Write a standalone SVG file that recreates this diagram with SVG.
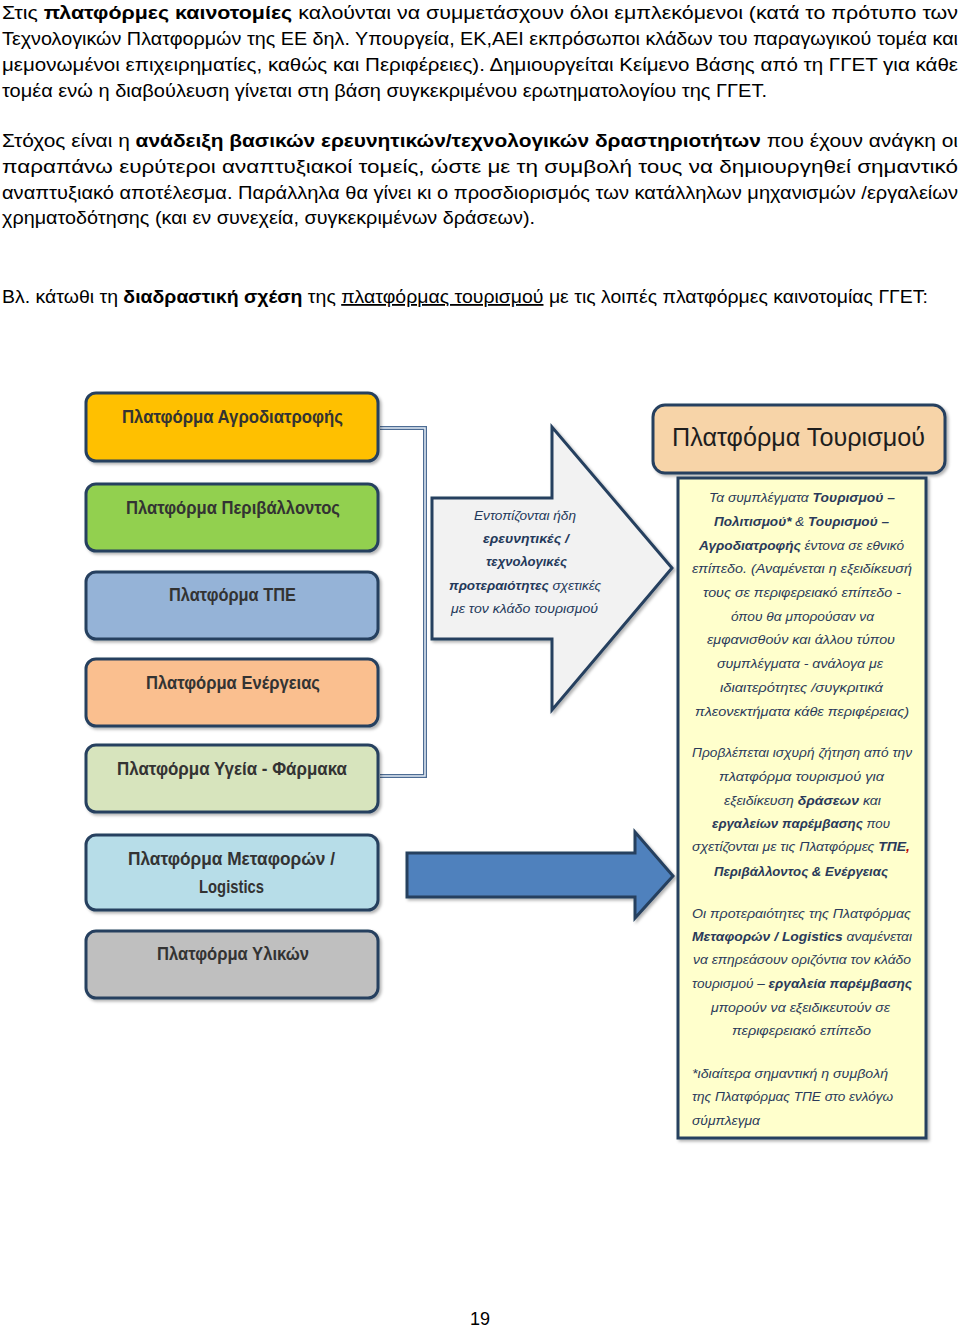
<svg xmlns="http://www.w3.org/2000/svg" width="960" height="1327" viewBox="0 0 960 1327">
<defs>
<filter id="sh" x="-10%" y="-10%" width="130%" height="130%">
<feDropShadow dx="2" dy="2" stdDeviation="1.5" flood-color="#000" flood-opacity="0.3"/>
</filter>
</defs>
<style>
.body{font-family:"Liberation Sans",Arial,sans-serif;font-size:18px;fill:#000}
.b{font-weight:bold}
.u{text-decoration:underline}
.box{stroke:#26405f;stroke-width:3}
.lbl{font-family:"Liberation Sans",Arial,sans-serif;font-size:18px;font-weight:bold;fill:#333}
.arrtxt{font-family:"Liberation Sans",Arial,sans-serif;font-size:13.5px;font-style:italic;fill:#24395a}
.ytxt{font-family:"Liberation Sans",Arial,sans-serif;font-size:13px;font-style:italic;fill:#2a3a5a}
</style>
<rect width="960" height="1327" fill="#fff"/>

<g id="page-text">
<text class="body" x="2" y="19" textLength="956" lengthAdjust="spacingAndGlyphs">Στις <tspan class="b">πλατφόρμες καινοτομίες</tspan> καλούνται να συμμετάσχουν όλοι εμπλεκόμενοι (κατά το πρότυπο των</text>
<text class="body" x="2" y="45" textLength="956" lengthAdjust="spacingAndGlyphs">Τεχνολογικών Πλατφορμών της ΕΕ δηλ. Υπουργεία, ΕΚ,ΑΕΙ εκπρόσωποι κλάδων του παραγωγικού τομέα και</text>
<text class="body" x="2" y="71" textLength="956" lengthAdjust="spacingAndGlyphs">μεμονωμένοι επιχειρηματίες, καθώς και Περιφέρειες). Δημιουργείται Κείμενο Βάσης από τη ΓΓΕΤ για κάθε</text>
<text class="body" x="2" y="97" textLength="765" lengthAdjust="spacingAndGlyphs">τομέα ενώ η διαβούλευση γίνεται  στη βάση συγκεκριμένου ερωτηματολογίου της ΓΓΕΤ.</text>
<text class="body" x="2" y="147" textLength="956" lengthAdjust="spacingAndGlyphs">Στόχος είναι η <tspan class="b">ανάδειξη βασικών ερευνητικών/τεχνολογικών  δραστηριοτήτων</tspan> που έχουν ανάγκη οι</text>
<text class="body" x="2" y="173" textLength="956" lengthAdjust="spacingAndGlyphs">παραπάνω ευρύτεροι αναπτυξιακοί τομείς, ώστε με τη συμβολή τους να δημιουργηθεί σημαντικό</text>
<text class="body" x="2" y="199" textLength="956" lengthAdjust="spacingAndGlyphs">αναπτυξιακό αποτέλεσμα. Παράλληλα θα γίνει  κι ο προσδιορισμός των κατάλληλων μηχανισμών /εργαλείων</text>
<text class="body" x="2" y="224" textLength="533" lengthAdjust="spacingAndGlyphs">χρηματοδότησης (και εν συνεχεία, συγκεκριμένων δράσεων).</text>
<text class="body" x="2" y="303" textLength="926" lengthAdjust="spacingAndGlyphs">Βλ. κάτωθι τη <tspan class="b">διαδραστική σχέση</tspan> της <tspan class="u">πλατφόρμας τουρισμού</tspan> με τις λοιπές πλατφόρμες καινοτομίας ΓΓΕΤ:</text>
<text class="body" x="480" y="1325" text-anchor="middle">19</text>
</g>

<g id="connectors">
<path d="M380,428 H425 V776 H380" fill="none" stroke="#4d6c94" stroke-width="4"/>
<path d="M380,428 H425 V776 H380" fill="none" stroke="#e3ebf5" stroke-width="1.5"/>
</g>

<g id="n-agro">
<rect class="box" x="86" y="393" width="292" height="68" rx="10" fill="#ffc000" filter="url(#sh)"/>
<text class="lbl" x="122" y="423" textLength="221" lengthAdjust="spacingAndGlyphs">Πλατφόρμα Αγροδιατροφής</text>
</g>
<g id="n-env">
<rect class="box" x="86" y="484" width="292" height="67" rx="10" fill="#92d050" filter="url(#sh)"/>
<text class="lbl" x="126" y="514" textLength="214" lengthAdjust="spacingAndGlyphs">Πλατφόρμα Περιβάλλοντος</text>
</g>
<g id="n-tpe">
<rect class="box" x="86" y="572" width="292" height="67" rx="10" fill="#95b3d7" filter="url(#sh)"/>
<text class="lbl" x="169" y="601" textLength="127" lengthAdjust="spacingAndGlyphs">Πλατφόρμα ΤΠΕ</text>
</g>
<g id="n-energy">
<rect class="box" x="86" y="659" width="292" height="67" rx="10" fill="#fabf8f" filter="url(#sh)"/>
<text class="lbl" x="146" y="689" textLength="174" lengthAdjust="spacingAndGlyphs">Πλατφόρμα Ενέργειας</text>
</g>
<g id="n-health">
<rect class="box" x="86" y="745" width="292" height="67" rx="10" fill="#d7e4bd" filter="url(#sh)"/>
<text class="lbl" x="117" y="775" textLength="230" lengthAdjust="spacingAndGlyphs">Πλατφόρμα Υγεία - Φάρμακα</text>
</g>
<g id="n-transport">
<rect class="box" x="86" y="835" width="292" height="75" rx="10" fill="#b7dde8" filter="url(#sh)"/>
<text class="lbl" x="128" y="865" textLength="207" lengthAdjust="spacingAndGlyphs">Πλατφόρμα Μεταφορών /</text>
<text class="lbl" x="199" y="893" textLength="65" lengthAdjust="spacingAndGlyphs">Logistics</text>
</g>
<g id="n-materials">
<rect class="box" x="86" y="931" width="292" height="67" rx="10" fill="#bfbfbf" filter="url(#sh)"/>
<text class="lbl" x="157" y="960" textLength="152" lengthAdjust="spacingAndGlyphs">Πλατφόρμα Υλικών</text>
</g>

<g id="n-grey-arrow">
<path d="M432,498 H552 V427 L672,568 L552,710 V639 H432 Z" fill="#f2f2f2" stroke="#26405f" stroke-width="3" stroke-linejoin="miter" filter="url(#sh)"/>
<text class="arrtxt" x="474" y="520" textLength="102" lengthAdjust="spacingAndGlyphs">Εντοπίζονται ήδη</text>
<text class="arrtxt b" x="483" y="543" textLength="86" lengthAdjust="spacingAndGlyphs">ερευνητικές /</text>
<text class="arrtxt b" x="486" y="566" textLength="81" lengthAdjust="spacingAndGlyphs">τεχνολογικές</text>
<text class="arrtxt" x="449" y="590" textLength="152" lengthAdjust="spacingAndGlyphs"><tspan class="b">προτεραιότητες</tspan> σχετικές</text>
<text class="arrtxt" x="451" y="613" textLength="147" lengthAdjust="spacingAndGlyphs">με τον κλάδο τουρισμού</text>
</g>

<g id="n-blue-arrow">
<path d="M407,853 H635 V832 L673,876 L635,918 V897 H407 Z" fill="#4f81bd" stroke="#26405f" stroke-width="3" filter="url(#sh)"/>
</g>

<g id="n-tourism">
<rect class="box" x="653" y="405" width="292" height="68" rx="12" fill="#f7d4a8" filter="url(#sh)"/>
<text x="672" y="446" font-family="Liberation Sans, Arial, sans-serif" font-size="26" fill="#1e1e1e" textLength="253" lengthAdjust="spacingAndGlyphs">Πλατφόρμα Τουρισμού</text>
</g>

<g id="n-tourism-details">
<rect class="box" x="678" y="478" width="248" height="660" fill="#ffffcc" filter="url(#sh)"/>
<text class="ytxt" x="709" y="502" textLength="186" lengthAdjust="spacingAndGlyphs">Τα συμπλέγματα <tspan class="b">Τουρισμού –</tspan></text>
<text class="ytxt" x="714" y="526" textLength="175" lengthAdjust="spacingAndGlyphs"><tspan class="b">Πολιτισμού*</tspan> &amp; <tspan class="b">Τουρισμού –</tspan></text>
<text class="ytxt" x="699" y="550" textLength="205" lengthAdjust="spacingAndGlyphs"><tspan class="b">Αγροδιατροφής</tspan> έντονα σε εθνικό</text>
<text class="ytxt" x="692" y="573" textLength="220" lengthAdjust="spacingAndGlyphs">επίπεδο. (Αναμένεται η εξειδίκευσή</text>
<text class="ytxt" x="703" y="597" textLength="198" lengthAdjust="spacingAndGlyphs">τους σε περιφερειακό επίπεδο -</text>
<text class="ytxt" x="731" y="621" textLength="143" lengthAdjust="spacingAndGlyphs">όπου θα μπορούσαν να</text>
<text class="ytxt" x="707" y="644" textLength="188" lengthAdjust="spacingAndGlyphs">εμφανισθούν και άλλου τύπου</text>
<text class="ytxt" x="717" y="668" textLength="166" lengthAdjust="spacingAndGlyphs">συμπλέγματα - ανάλογα με</text>
<text class="ytxt" x="720" y="692" textLength="163" lengthAdjust="spacingAndGlyphs">ιδιαιτερότητες /συγκριτικά</text>
<text class="ytxt" x="695" y="716" textLength="214" lengthAdjust="spacingAndGlyphs">πλεονεκτήματα κάθε περιφέρειας)</text>

<text class="ytxt" x="692" y="757" textLength="220" lengthAdjust="spacingAndGlyphs">Προβλέπεται ισχυρή ζήτηση από την</text>
<text class="ytxt" x="719" y="781" textLength="165" lengthAdjust="spacingAndGlyphs">πλατφόρμα τουρισμού  για</text>
<text class="ytxt" x="724" y="805" textLength="157" lengthAdjust="spacingAndGlyphs">εξειδίκευση <tspan class="b">δράσεων</tspan> και</text>
<text class="ytxt" x="712" y="828" textLength="178" lengthAdjust="spacingAndGlyphs"><tspan class="b">εργαλείων παρέμβασης</tspan> που</text>
<text class="ytxt" x="692" y="851" textLength="218" lengthAdjust="spacingAndGlyphs">σχετίζονται με τις Πλατφόρμες <tspan class="b">ΤΠΕ</tspan><tspan class="b" fill="#c00000">,</tspan></text>
<text class="ytxt b" x="714" y="876" textLength="174" lengthAdjust="spacingAndGlyphs">Περιβάλλοντος &amp; Ενέργειας</text>

<text class="ytxt" x="692" y="918" textLength="219" lengthAdjust="spacingAndGlyphs">Οι προτεραιότητες της Πλατφόρμας</text>
<text class="ytxt" x="692" y="941" textLength="220" lengthAdjust="spacingAndGlyphs"><tspan class="b">Μεταφορών  / Logistics</tspan> αναμένεται</text>
<text class="ytxt" x="693" y="964" textLength="218" lengthAdjust="spacingAndGlyphs">να επηρεάσουν οριζόντια τον κλάδο</text>
<text class="ytxt" x="692" y="988" textLength="220" lengthAdjust="spacingAndGlyphs">τουρισμού – <tspan class="b">εργαλεία παρέμβασης</tspan></text>
<text class="ytxt" x="711" y="1012" textLength="179" lengthAdjust="spacingAndGlyphs">μπορούν να εξειδικευτούν σε</text>
<text class="ytxt" x="732" y="1035" textLength="139" lengthAdjust="spacingAndGlyphs">περιφερειακό επίπεδο</text>

<text class="ytxt" x="692" y="1078" textLength="196" lengthAdjust="spacingAndGlyphs">*ιδιαίτερα σημαντική η συμβολή</text>
<text class="ytxt" x="692" y="1101" textLength="201" lengthAdjust="spacingAndGlyphs">της Πλατφόρμας ΤΠΕ στο ενλόγω</text>
<text class="ytxt" x="692" y="1125" textLength="68" lengthAdjust="spacingAndGlyphs">σύμπλεγμα</text>
</g>
</svg>
